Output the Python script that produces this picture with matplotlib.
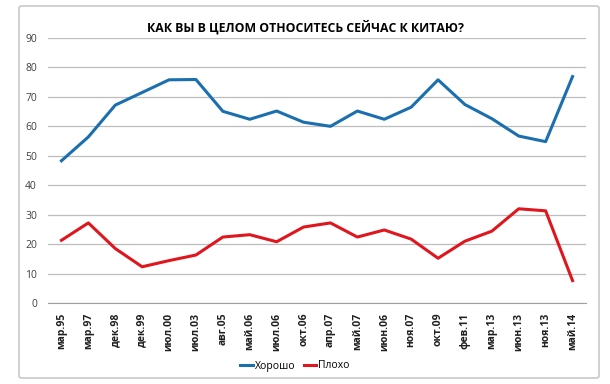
import matplotlib.pyplot as plt
from matplotlib.patches import FancyBboxPatch

dates = ["мар.95", "мар.97", "дек.98", "дек.99", "июл.00", "июл.03", "авг.05",
         "май.06", "июл.06", "окт.06", "апр.07", "май.07", "июн.06", "ноя.07",
         "окт.09", "фев.11", "мар.13", "июн.13", "ноя.13", "май.14"]
good = [48.3, 56.4, 67.2, 71.5, 75.8, 75.9, 65.1, 62.4, 65.2, 61.4,
        60.0, 65.2, 62.4, 66.5, 75.8, 67.4, 62.6, 56.7, 54.8, 76.9]
bad = [21.3, 27.2, 18.5, 12.3, 14.4, 16.3, 22.4, 23.2, 20.8, 25.8,
       27.2, 22.4, 24.8, 21.7, 15.2, 21.0, 24.4, 32.0, 31.3, 7.6]

plt.rcParams["font.family"] = ["Open Sans", "DejaVu Sans"]

fig = plt.figure(figsize=(6.1, 3.84), dpi=100)
fig.patches.append(FancyBboxPatch((19 / 610, 6 / 384), 580 / 610, 372 / 384,
                                  boxstyle="round,pad=0,rounding_size=0.005",
                                  transform=fig.transFigure, fill=False,
                                  edgecolor="#c8c8c8", linewidth=1.2))

ax = fig.add_axes([48 / 610, 1 - 303 / 384, 538 / 610, 265 / 384])
x = range(len(dates))
ax.plot(x, good, color="#1b6fae", linewidth=2.2, label="Хорошо")
ax.plot(x, bad, color="#e0161e", linewidth=2.2, label="Плохо")

ax.set_xlim(-0.5, len(dates) - 0.5)
ax.set_ylim(0, 90)
ax.set_yticks(range(0, 91, 10))
ax.grid(axis="y", color="#bdbdbd", linewidth=0.9)
ax.set_axisbelow(True)
for s in ["top", "right", "left"]:
    ax.spines[s].set_visible(False)
ax.spines["bottom"].set_color("#a0a0a0")
ax.tick_params(axis="y", length=0, labelsize=7.5, colors="#404040", pad=8)
ax.set_xticks(list(x))
ax.set_xticklabels(dates, rotation=90, fontsize=7.5, fontweight="bold")
ax.tick_params(axis="x", length=0, pad=7, colors="#202020")

fig.text(0.5, 1 - 27 / 384, "КАК ВЫ В ЦЕЛОМ ОТНОСИТЕСЬ СЕЙЧАС К КИТАЮ?",
         ha="center", va="center", fontsize=8.8, fontweight="bold")
fig.legend(loc="center", bbox_to_anchor=(295 / 610, 1 - 366 / 384), ncol=2,
           frameon=False, fontsize=7.5, handlelength=1.2, handletextpad=0.2,
           columnspacing=0.8)

fig.savefig("out.png", dpi=100)
